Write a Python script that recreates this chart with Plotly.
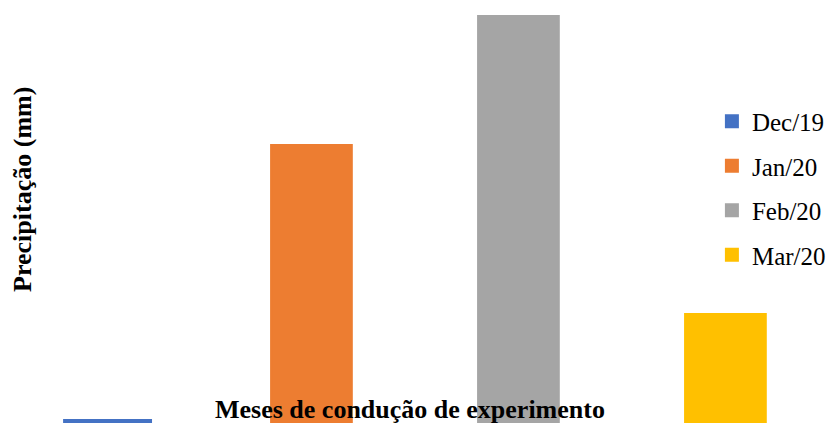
import plotly.graph_objects as go

months = ["Dec/19", "Jan/20", "Feb/20", "Mar/20"]
precip = [11, 286, 415, 117]
colors = ["#4472C4", "#ED7D31", "#A5A5A5", "#FFC000"]

fig = go.Figure()
for m, v, c in zip(months, precip, colors):
    bw = dict(width=0.42, offset=-0.195) if m == "Dec/19" else dict(width=0.39)
    fig.add_trace(go.Bar(x=[m], y=[v], name=m, marker_color=c,
                         marker_line=dict(color=c, width=2),
                         legendgroup=m, **bw))

fig.update_layout(
    width=835, height=423,
    margin=dict(l=0, r=0, t=0, b=0),
    paper_bgcolor="white", plot_bgcolor="white",
    barmode="overlay",
    font=dict(family="Liberation Serif", color="black", size=26),
    xaxis=dict(categoryorder="array", categoryarray=months, range=[-0.466, 3.568],
               showticklabels=False, showgrid=False, zeroline=False, showline=False),
    yaxis=dict(range=[0, 423], showticklabels=False, showgrid=False,
               zeroline=False, showline=False),
    legend=dict(x=0.843, y=0.786, xanchor="left", yanchor="top",
                traceorder="grouped", tracegroupgap=9,
                bgcolor="rgba(0,0,0,0)", font=dict(size=25)),
    showlegend=True,
)
fig.add_annotation(text="<b>Meses de condução de experimento</b>",
                   xref="paper", yref="paper", x=0.481, y=0.05,
                   xanchor="center", yanchor="middle", showarrow=False,
                   font=dict(size=26))
fig.add_annotation(text="<b>Precipitação (mm)</b>",
                   xref="paper", yref="paper", x=0.018, y=0.57,
                   xanchor="center", yanchor="middle", textangle=-90,
                   showarrow=False, font=dict(size=26))

fig.write_html("out.html")
